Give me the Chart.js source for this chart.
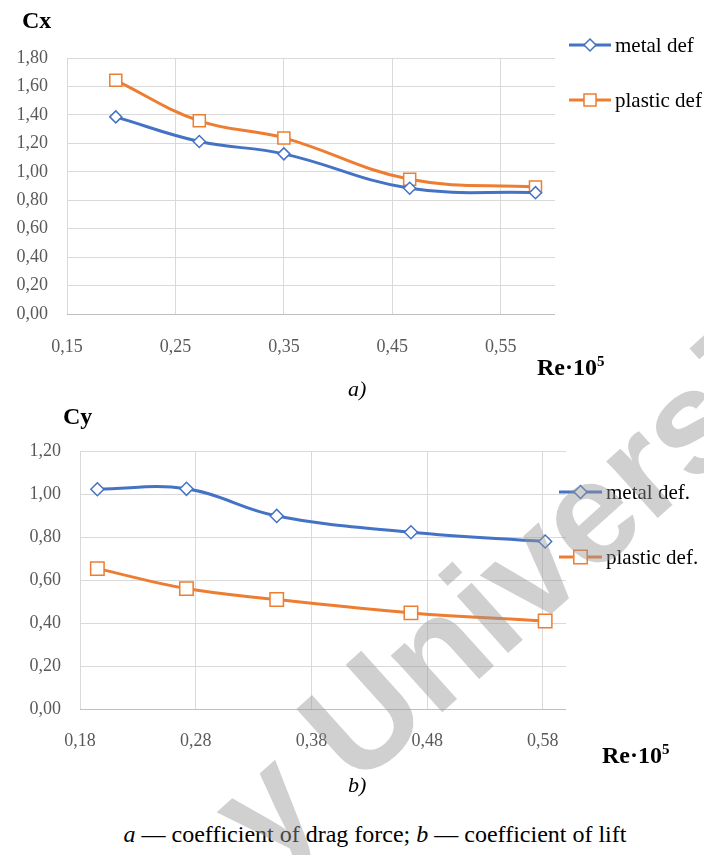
<!DOCTYPE html>
<html>
<head>
<meta charset="utf-8">
<script src="https://cdn.jsdelivr.net/npm/chart.js@4.4.0/dist/chart.umd.min.js"></script>
<style>
  html, body { margin: 0; padding: 0; background: #fff; }
  body { width: 704px; height: 855px; position: relative; overflow: hidden; font-family: "Liberation Serif", "Times New Roman", Tinos, "Nimbus Roman", "Noto Serif", "DejaVu Serif", serif; }
  .wrap { position: absolute; left: 0; width: 704px; }
  .lbl { position: absolute; white-space: nowrap; line-height: 1; color: #000; }
  .ttl { font-weight: bold; font-size: 24px; }
  .sup { font-size: 15px; position: relative; top: -9px; }
  .cap { font-size: 22px; font-style: italic; }
  #wm { position: absolute; left: 0; top: 0; pointer-events: none; }
</style>
</head>
<body>

<div class="wrap" style="top:0;height:380px"><canvas id="chartA"></canvas></div>
<div class="wrap" style="top:380px;height:420px"><canvas id="chartB"></canvas></div>

<div class="lbl ttl" style="left:22px;top:8px">Cx</div>
<div class="lbl ttl" style="left:537px;top:355px">Re·10<span class="sup">5</span></div>
<div class="lbl cap" style="left:348px;top:378px">a)</div>

<div class="lbl ttl" style="left:63px;top:404px">Cy</div>
<div class="lbl ttl" style="left:602px;top:743px">Re·10<span class="sup">5</span></div>
<div class="lbl cap" style="left:348px;top:774px">b)</div>

<div class="lbl" style="left:0;width:750px;text-align:center;top:822px;font-size:24px"><i>a</i> — coefficient of drag force; <i>b</i> — coefficient of lift</div>

<svg id="wm" width="704" height="855">
  <text x="267" y="870" transform="rotate(-42 267 870)" font-family="Liberation Sans, Arial, sans-serif" font-weight="bold" font-size="145" fill="rgba(150,150,150,0.45)">y University</text>
</svg>

<script>
// Re·10^5 values (same for both plots)
const reValues = [0.195, 0.272, 0.35, 0.466, 0.582];

// a) drag coefficient
const cxMetal = [1.386, 1.213, 1.126, 0.884, 0.853];
const cxPlastic = [1.643, 1.358, 1.238, 0.947, 0.893];
const xTicksA = [0.15, 0.25, 0.35, 0.45, 0.55];
const namesA = ['metal def', 'plastic def'];

// b) lift coefficient
const cyMetal = [1.022, 1.024, 0.898, 0.822, 0.779];
const cyPlastic = [0.653, 0.560, 0.509, 0.447, 0.409];
const xTicksB = [0.18, 0.28, 0.38, 0.48, 0.58];
const namesB = ['metal def.', 'plastic def.'];

const BLUE = '#4472C4';
const ORANGE = '#ED7D31';
const SERIF = '"Liberation Serif", "Times New Roman", Tinos, "Nimbus Roman", "Noto Serif", "DejaVu Serif", serif';

let fmt = v => Number(v).toFixed(2).replace('.', ',');
let pts = (xs, ys) => xs.map((x, i) => ({ x: x, y: ys[i] }));

// legend drawn at the right of the plot, Excel style
const sideLegend = {
    id: 'sideLegend',
    afterDraw(chart, args, opts) {
        const ctx = chart.ctx;
        chart.data.datasets.forEach((ds, i) => {
            const y = opts.ys[i];
            ctx.save();
            ctx.strokeStyle = ds.borderColor;
            ctx.lineWidth = ds.borderWidth;
            ctx.beginPath();
            ctx.moveTo(opts.x0, y);
            ctx.lineTo(opts.x1, y);
            ctx.stroke();
            ctx.fillStyle = '#fff';
            ctx.lineWidth = ds.pointBorderWidth;
            Chart.helpers.drawPoint(ctx, { pointStyle: ds.pointStyle, radius: ds.pointRadius, rotation: 0, borderWidth: ds.pointBorderWidth }, (opts.x0 + opts.x1) / 2, y);
            ctx.fillStyle = '#000';
            ctx.font = '21px ' + SERIF;
            ctx.textBaseline = 'middle';
            ctx.fillText(ds.label, opts.x1 + 4, y + 1);
            ctx.restore();
        });
    }
};

let drawChart = function (canvas, names, metal, plastic, xTicks, yMax, lay) {
    let series = function (label, ys, color, style, r) {
        return {
            label: label,
            data: pts(reValues, ys),
            showLine: true,
            tension: 0.4,
            borderColor: color,
            borderWidth: 3,
            pointStyle: style,
            pointRadius: r,
            pointHoverRadius: r,
            pointBackgroundColor: '#fff',
            pointBorderColor: color,
            pointBorderWidth: 1.5
        };
    };

    return new Chart(document.getElementById(canvas), {
        type: 'scatter',
        data: {
            datasets: [
                series(names[0], metal, BLUE, 'rectRot', lay.dia),
                series(names[1], plastic, ORANGE, 'rect', lay.sq)
            ]
        },
        plugins: [sideLegend],
        options: {
            responsive: true,
            maintainAspectRatio: false,
            animation: false,
            layout: { padding: { left: 0, right: lay.right, top: lay.top, bottom: 0 } },
            plugins: {
                legend: { display: false },
                tooltip: { enabled: false },
                sideLegend: lay.legend
            },
            scales: {
                x: {
                    type: 'linear',
                    min: xTicks[0],
                    max: 0.6,
                    afterBuildTicks: s => { s.ticks = xTicks.map(v => ({ value: v })); },
                    afterFit: s => { s.height = lay.xh; },
                    ticks: {
                        callback: v => fmt(v),
                        font: { family: SERIF, size: 18 },
                        color: '#595959',
                        padding: lay.xpad,
                        maxRotation: 0,
                        autoSkip: false
                    },
                    grid: { color: '#d9d9d9', lineWidth: 1, drawTicks: false },
                    border: { display: false }
                },
                y: {
                    min: 0,
                    max: yMax,
                    afterFit: s => { s.width = lay.yw; },
                    ticks: {
                        stepSize: 0.2,
                        callback: v => fmt(v),
                        font: { family: SERIF, size: 18 },
                        color: '#595959',
                        padding: lay.ypad
                    },
                    grid: {
                        color: c => (c.tick && c.tick.value === 0) ? '#bfbfbf' : '#d9d9d9',
                        lineWidth: 1,
                        drawTicks: false
                    },
                    border: { display: false }
                }
            }
        }
    });
};

drawChart('chartA', namesA, cxMetal, cxPlastic, xTicksA, 1.8, {
    right: 149, top: 58, xh: 66, yw: 67, xpad: 22, ypad: 19, dia: 6, sq: 8.5,
    legend: { x0: 569, x1: 611, ys: [45, 100] }
});

drawChart('chartB', namesB, cyMetal, cyPlastic, xTicksB, 1.2, {
    right: 138, top: 71, xh: 91, yw: 80, xpad: 21, ypad: 19, dia: 6.5, sq: 9.5,
    legend: { x0: 559, x1: 602, ys: [112, 177] }
});
</script>
</body>
</html>
